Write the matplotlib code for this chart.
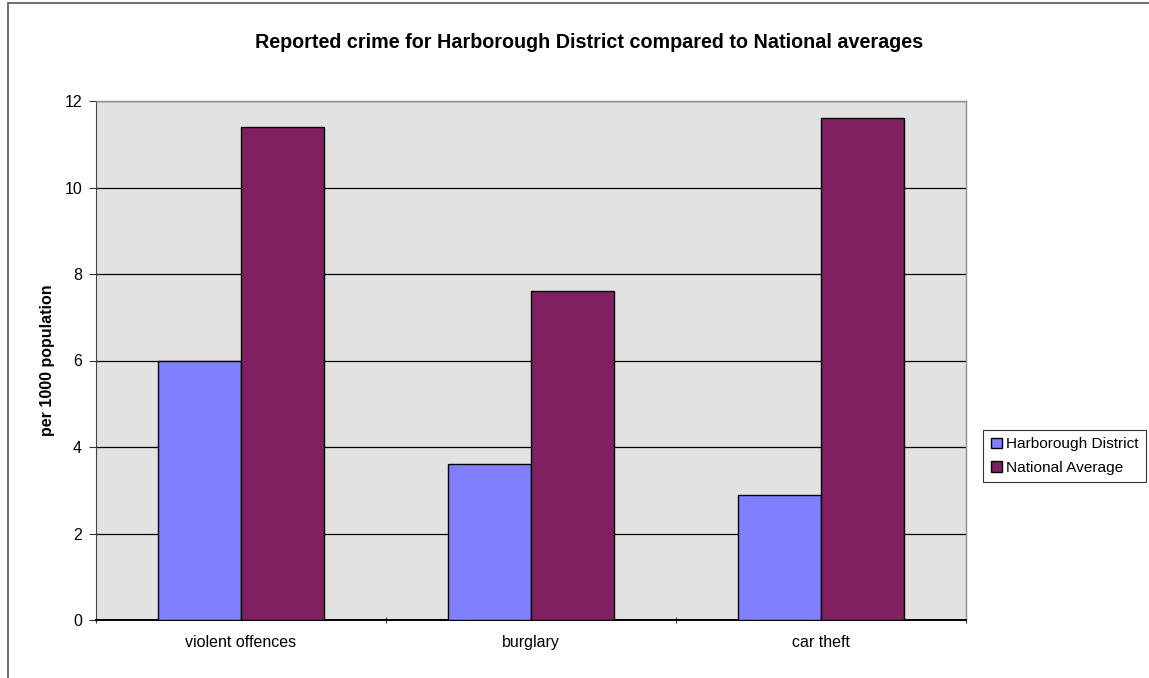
import matplotlib.pyplot as plt
import numpy as np
from matplotlib.patches import Rectangle

plt.rcParams['font.family'] = ['Liberation Sans', 'DejaVu Sans']

categories = ["violent offences", "burglary", "car theft"]
harborough = [6.0, 3.6, 2.9]
national = [11.4, 7.6, 11.6]
series_names = ["Harborough District", "National Average"]
y_ticks = [0, 2, 4, 6, 8, 10, 12]

BLUE = "#8080FF"
PLUM = "#802060"
PLOT_BG = "#E2E2E2"

fig = plt.figure(figsize=(11.49, 6.78), dpi=100)
fig.set_facecolor("white")

# outer chart frame (runs off the right and bottom edges)
fig.patches.append(Rectangle((8 / 1149, -0.05), 1.2, 1 - 3 / 678 + 0.05,
                             transform=fig.transFigure, fill=False,
                             edgecolor="#555555", linewidth=1.2))

ax = fig.add_axes([96 / 1149, 1 - 620 / 678, 870 / 1149, 519 / 678])
ax.set_facecolor(PLOT_BG)

x = np.arange(len(categories))
w = 1 / 3.5
ax.bar(x - w / 2, harborough, w, color=BLUE, edgecolor="black",
       linewidth=1.0, label=series_names[0], zorder=3)
ax.bar(x + w / 2, national, w, color=PLUM, edgecolor="black",
       linewidth=1.0, label=series_names[1], zorder=3)

ax.set_xlim(-0.5, len(categories) - 0.5)
ax.set_ylim(0, 12)
ax.set_yticks(y_ticks)
ax.set_yticklabels([str(t) for t in y_ticks], fontsize=11.5)
ax.yaxis.grid(True, color="black", linewidth=0.9, zorder=1)
ax.set_axisbelow(True)

ax.set_xticks(np.arange(len(categories) + 1) - 0.5)
ax.set_xticklabels([])
ax.set_xticks(x, minor=True)
ax.set_xticklabels(categories, minor=True, fontsize=11.5)
ax.tick_params(axis="x", which="minor", length=0, pad=11)
ax.tick_params(axis="x", which="major", length=5, direction="inout",
               color="#333333")
ax.tick_params(axis="y", length=5, direction="out", color="#333333", pad=5)

for side in ("top", "right"):
    ax.spines[side].set_color("#909090")
    ax.spines[side].set_linewidth(1.0)
ax.spines["left"].set_color("#444444")
ax.spines["bottom"].set_color("black")
ax.spines["bottom"].set_linewidth(1.4)

ax.set_ylabel("per 1000 population", fontsize=11.5, fontweight="bold")
ax.yaxis.set_label_coords(-41 / 870, 0.5)

fig.text(589 / 1149, 1 - 43 / 678,
         "Reported crime for Harborough District compared to National averages",
         ha="center", va="center", fontsize=14.2, fontweight="bold")

leg = ax.legend(loc="center left", bbox_to_anchor=(983 / 1149, 1 - 456 / 678),
                bbox_transform=fig.transFigure, fontsize=11.1, frameon=True,
                fancybox=False, edgecolor="black", handlelength=0.7,
                handleheight=0.7, handletextpad=0.3, borderpad=0.5,
                labelspacing=0.6, borderaxespad=0)
leg.get_frame().set_linewidth(0.8)

fig.savefig("out.png", dpi=100, facecolor="white")
